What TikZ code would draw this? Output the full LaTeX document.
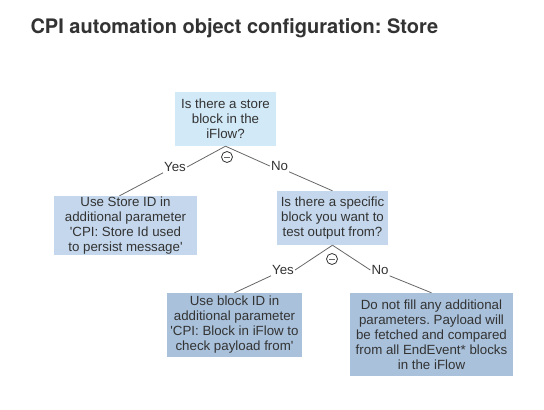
\documentclass[tikz,border=0pt]{standalone}
\usepackage{fontspec}
\setmainfont{Liberation Sans}[Ligatures=TeXOff]
\newfontfamily\titlefont{TeX Gyre Heros}[Ligatures=TeXOff]
\frenchspacing
\definecolor{txt}{HTML}{333333}
\definecolor{ln}{HTML}{666666}
\definecolor{cA}{HTML}{D2E9F7}
\definecolor{cB}{HTML}{C4D7EC}
\definecolor{cC}{HTML}{A9C1DB}
\begin{document}
\begin{tikzpicture}[x=1pt,y=-1pt,
  box/.style={rectangle, inner sep=0pt, align=center, text=txt,
    font=\fontsize{13.3}{15}\selectfont},
  lbl/.style={inner sep=1pt, text=txt, font=\fontsize{13.3}{15}\selectfont},
  conn/.style={draw=ln, line width=0.8pt},
  circ/.style={circle, draw=txt, line width=0.8pt, minimum size=11pt, inner sep=0pt}]
\useasboundingbox (0,0) rectangle (544,410);
\node[anchor=base west, text=txt, font=\titlefont\bfseries\fontsize{20}{24}\selectfont\frenchspacing] (title) at (27,33) {CPI automation object configuration: Store};

\node[box, fill=cA, minimum width=101pt, minimum height=54pt] (b1) at (225.5,119) {Is there a store\\block in the\\iFlow?};
\node[box, fill=cB, minimum width=143pt, minimum height=59pt] (b2) at (125.5,225.5) {Use Store ID in\\additional parameter\\'CPI: Store Id used\\to persist message'};
\node[box, fill=cB, minimum width=111pt, minimum height=54pt] (b3) at (332.5,218) {Is there a specific\\block you want to\\test output from?};
\node[box, fill=cC, minimum width=135pt, minimum height=64pt] (b4) at (234.5,325) {Use block ID in\\additional parameter\\'CPI: Block in iFlow to\\check payload from'};
\node[box, fill=cC, minimum width=163pt, minimum height=83pt, font=\fontsize{13.3}{15}\selectfont\frenchspacing] (b5) at (431.5,334.5) {Do not fill any additional\\parameters. Payload will\\be fetched and compared\\from all EndEvent* blocks\\in the iFlow};

\node[lbl] (y1) at (175,167) {Yes};
\node[lbl] (n1) at (279.5,166) {No};
\node[lbl] (y2) at (283,270) {Yes};
\node[lbl] (n2) at (380,270) {No};

\node[circ] (c1) at (227,157) {};
\draw[conn] ([xshift=-3pt]c1.center) -- ([xshift=3pt]c1.center);
\node[circ] (c2) at (332,259) {};
\draw[conn] ([xshift=-3pt]c2.center) -- ([xshift=3pt]c2.center);

\draw[conn] (b1.south) -- (y1.east);
\draw[conn] (y1.south west) -- ([xshift=-6pt]b2.north);
\draw[conn] (b1.south) -- (n1.west);
\draw[conn] (n1.south east) -- (b3.north);
\draw[conn] (b3.south) -- (y2.east);
\draw[conn] (y2.south west) -- (b4.north);
\draw[conn] (b3.south) -- (n2.west);
\draw[conn] (n2.south east) -- (b5.north);
\end{tikzpicture}
\end{document}
